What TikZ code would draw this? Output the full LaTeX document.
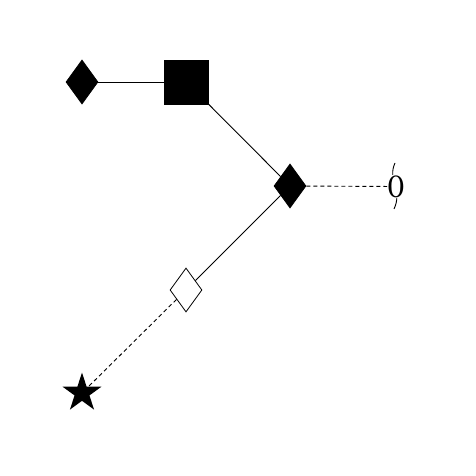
\documentclass[tikz,border=0pt]{standalone}
\usetikzlibrary{shapes.geometric}
\begin{document}
\begin{tikzpicture}[x=1pt,y=-1pt,
  link/.style={line width=0.9pt},
  dlink/.style={line width=0.9pt,dash pattern=on 4pt off 3pt},
  dia/.style={diamond,draw,line width=0.8pt,inner sep=0pt,minimum width=32pt,minimum height=44pt},
  sq/.style={rectangle,draw,fill=black,inner sep=0pt,minimum size=44pt},
  st/.style={star,star points=5,star point ratio=2.618,fill=black,inner sep=0pt,minimum size=41pt}]
\useasboundingbox (0,0) rectangle (476,476);
\node[dia,fill=black] (d1) at (82,82) {};
\node[sq] (s1) at (186.5,82) {};
\node[dia,fill=black] (d2) at (290,186) {};
\node[dia,fill=white] (d3) at (186,290) {};
\node[st] (st1) at (82,393) {};
\coordinate (wt) at (395,163);
\coordinate (wb) at (394,209);
\draw[link] (wt) .. controls (387,180) and (403,190) .. (wb);
\node[fill=white,inner sep=0pt,font=\fontsize{31}{31}\selectfont\bfseries] (o) at (396,186.5) {\scalebox{0.66}[1]{O}};
\draw[link] (d1) -- (s1);
\draw[link] (s1) -- (d2);
\draw[dlink] (d2) -- (o);
\draw[link] (d2) -- (d3);
\draw[dlink] (d3) -- (st1);
\end{tikzpicture}
\end{document}
